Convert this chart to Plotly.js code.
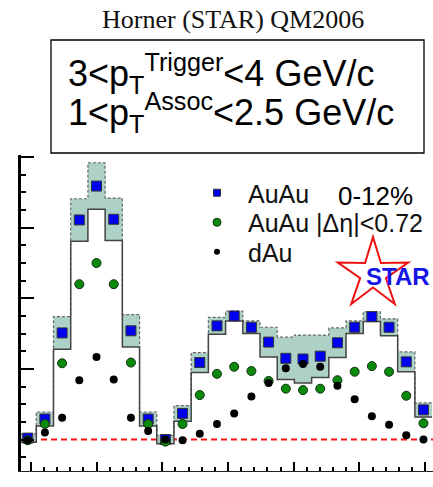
<!DOCTYPE html>
<html><head><meta charset="utf-8">
<script src="https://cdn.plot.ly/plotly-3.0.1.min.js"></script>
<style>html,body{margin:0;padding:0;background:#fff}#chart{width:433px;height:487px}</style>
</head><body><div id="chart"></div>
<script>
// bin index k: delta-phi = k * pi/12
const binIndex = [-4,-3,-2,-1,0,1,2,3,4,5,6,7,8,9,10,11,12,13,14,15,16,17,18,19];
// AuAu 0-12% (blue squares)
const auau    = [0.002,0.029,0.151,0.311,0.359,0.312,0.154,0.029,0.000,0.037,0.109,0.161,0.175,0.159,0.138,0.115,0.114,0.118,0.137,0.159,0.174,0.159,0.110,0.042];
// systematic half-width of AuAu band
const auauSys = [0.006,0.010,0.023,0.030,0.033,0.030,0.023,0.010,0.006,0.011,0.014,0.012,0.007,0.009,0.021,0.030,0.034,0.030,0.021,0.009,0.007,0.012,0.014,0.010];
// AuAu |Δη|<0.72 (green circles)
const auauEta = [-0.001,0.022,0.108,0.220,0.250,0.220,0.109,0.022,-0.003,0.022,0.063,0.093,0.103,0.097,0.083,0.072,0.070,0.072,0.084,0.096,0.104,0.096,0.062,0.023];
// dAu (black dots)
const dau     = [-0.001,0.010,0.031,0.084,0.117,0.085,0.031,0.012,0.000,-0.001,0.008,0.022,0.037,0.061,0.080,0.101,0.107,0.103,0.076,0.057,0.033,0.021,0.006,0.000];
const seriesNames = ['AuAu', 'AuAu |Δη|<0.72', 'dAu'];
const titleText = 'Horner (STAR) QM2006';
const boxLine1 = '3&lt;p<sub>T</sub><sup>Trigger</sup>&lt;4 GeV/c';
const boxLine2 = '1&lt;p<sub>T</sub><sup>Assoc</sup>&lt;2.5 GeV/c';
const centText = '0-12%';
const logoText = 'STAR';

const binW = Math.PI / 12;
const x = binIndex.map(k => k * binW);
const lower = auau.map((v, i) => v - auauSys[i]);
const upper = auau.map((v, i) => v + auauSys[i]);
const edges = binIndex.map(k => (k - 0.5) * binW).concat([(binIndex[binIndex.length - 1] + 0.5) * binW]);
const stair = arr => arr.concat([arr[arr.length - 1]]);

// pixel helpers for decorations only
const W = 433, H = 487, ML = 21, MR = 0, MT = 155, MB = 16;
const PW = W - ML - MR, PH = H - MT - MB;
const px = v => (v - ML) / PW;
const py = v => (H - MB - v) / PH;

const xr = [-1.149, 5.119];
const yr = [-0.0446, 0.403];

const legFont = {family: 'Liberation Sans, Arial, sans-serif', size: 25, color: '#111'};
const legBase = {x: px(186), xanchor: 'left', yanchor: 'middle', bgcolor: 'rgba(0,0,0,0)', font: legFont, itemwidth: 52};

const traces = [
  {x: edges, y: stair(lower), mode: 'lines', line: {shape: 'hv', width: 0, color: 'rgba(0,0,0,0)'}, showlegend: false, hoverinfo: 'skip'},
  {x: edges, y: stair(upper), mode: 'lines', fill: 'tonexty', fillcolor: '#aed1c7',
   line: {shape: 'hv', width: 1.2, color: '#666', dash: '3px,2px'}, showlegend: false, hoverinfo: 'skip'},
  {x: edges, y: stair(lower), mode: 'lines', line: {shape: 'hv', width: 1.5, color: '#444'}, showlegend: false, hoverinfo: 'skip'},
  {x: x, y: auau, mode: 'markers', cliponaxis: false, showlegend: false,
   marker: {symbol: 'square', size: 10, color: '#0000f0', line: {width: 1, color: '#333'}}},
  {x: x, y: auauEta, mode: 'markers', cliponaxis: false, showlegend: false,
   marker: {symbol: 'circle', size: 9, color: '#0a8a0a', line: {width: 1, color: '#143014'}}},
  {x: x, y: dau, mode: 'markers', cliponaxis: false, showlegend: false,
   marker: {symbol: 'circle', size: 8, color: '#000'}},
  // legend entries
  {x: [null], y: [null], mode: 'markers', name: seriesNames[0], legend: 'legend',
   marker: {symbol: 'square', size: 7, color: '#0000f0', line: {width: 1, color: '#333'}}},
  {x: [null], y: [null], mode: 'markers', name: seriesNames[1], legend: 'legend2',
   marker: {symbol: 'circle', size: 8, color: '#0a8a0a', line: {width: 1, color: '#143014'}}},
  {x: [null], y: [null], mode: 'markers', name: seriesNames[2], legend: 'legend3',
   marker: {symbol: 'circle', size: 6, color: '#000'}}
];

// star logo path (decoration)
const sc = [373, 274], R = 37, r = 13.5;
let path = '';
for (let i = 0; i < 10; i++) {
  const a = (-90 + i * 36) * Math.PI / 180;
  const rad = i % 2 === 0 ? R : r;
  const X = px(sc[0] + rad * Math.cos(a)), Y = py(sc[1] + rad * Math.sin(a));
  path += (i === 0 ? 'M' : 'L') + X.toFixed(4) + ',' + Y.toFixed(4);
}
path += 'Z';

const tickCommon = {showgrid: false, zeroline: false, showticklabels: false, ticks: 'inside', tickcolor: '#000'};

const layout = {
  width: W, height: H,
  margin: {l: ML, r: MR, t: MT, b: MB, pad: 0},
  paper_bgcolor: '#fff', plot_bgcolor: '#fff',
  showlegend: true,
  legend: Object.assign({}, legBase, {y: py(193)}),
  legend2: Object.assign({}, legBase, {y: py(222.5)}),
  legend3: Object.assign({}, legBase, {y: py(252)}),
  xaxis: Object.assign({}, tickCommon, {range: xr, tick0: 0, dtick: 1, ticklen: 9, tickwidth: 2,
           showline: true, linewidth: 1, linecolor: '#222',
           minor: {dtick: 0.2, ticklen: 4, tickwidth: 2, tickcolor: '#000', ticks: 'inside'}}),
  xaxis2: Object.assign({}, tickCommon, {range: xr, overlaying: 'x', side: 'top', anchor: 'y',
           tick0: 0, dtick: 1, ticklen: 8, tickwidth: 2, showline: true, linewidth: 3, linecolor: '#000',
           minor: {dtick: 0.2, ticklen: 4, tickwidth: 2, tickcolor: '#000', ticks: 'inside'}}),
  yaxis: Object.assign({}, tickCommon, {range: yr, tick0: 0, dtick: 0.1, ticklen: 13, tickwidth: 2,
           showline: true, linewidth: 3, linecolor: '#000',
           minor: {dtick: 0.025, ticklen: 5, tickwidth: 2, tickcolor: '#000', ticks: 'inside'}}),
  yaxis2: Object.assign({}, tickCommon, {range: yr, overlaying: 'y', side: 'right', anchor: 'free',
           position: px(424), tick0: 0, dtick: 0.1, ticklen: 10, tickwidth: 2, tickcolor: '#333',
           showline: true, linewidth: 2, linecolor: '#555',
           minor: {dtick: 0.025, ticklen: 6, tickwidth: 2, tickcolor: '#333', ticks: 'inside'}}),
  shapes: [
    {type: 'line', xref: 'paper', x0: 0, x1: 1, yref: 'y', y0: 0, y1: 0, layer: 'below',
     line: {color: '#ff1010', width: 2, dash: '6px,4px'}},
    {type: 'rect', xref: 'paper', yref: 'paper', x0: px(51), x1: px(424), y0: py(153), y1: py(40),
     line: {color: '#000', width: 1.3}, fillcolor: 'rgba(0,0,0,0)'},
    {type: 'path', xref: 'paper', yref: 'paper', path: path, line: {color: '#ee1111', width: 2},
     fillcolor: 'rgba(255,255,255,0)', layer: 'above'}
  ],
  annotations: [
    {xref: 'paper', yref: 'paper', x: px(233), y: py(20), xanchor: 'center', yanchor: 'middle', showarrow: false,
     text: titleText, font: {family: 'Liberation Serif, Times New Roman, serif', size: 26, color: '#111'}},
    {xref: 'paper', yref: 'paper', x: px(66), y: py(74), xanchor: 'left', yanchor: 'middle', showarrow: false,
     text: boxLine1, font: {family: 'Liberation Sans, Arial, sans-serif', size: 36, color: '#000'}},
    {xref: 'paper', yref: 'paper', x: px(66), y: py(113), xanchor: 'left', yanchor: 'middle', showarrow: false,
     text: boxLine2, font: {family: 'Liberation Sans, Arial, sans-serif', size: 36, color: '#000'}},
    {xref: 'paper', yref: 'paper', x: px(336), y: py(196), xanchor: 'left', yanchor: 'middle', showarrow: false,
     text: centText, font: {family: 'Liberation Sans, Arial, sans-serif', size: 26, color: '#000'}},
    {xref: 'paper', yref: 'paper', x: px(398), y: py(276), xanchor: 'center', yanchor: 'middle', showarrow: false,
     text: '<b>' + logoText + '</b>', font: {family: 'Liberation Sans, Arial, sans-serif', size: 24, color: '#1515e6'}}
  ]
};

Plotly.newPlot('chart', traces, layout, {displayModeBar: false, staticPlot: true});
</script>
</body></html>
